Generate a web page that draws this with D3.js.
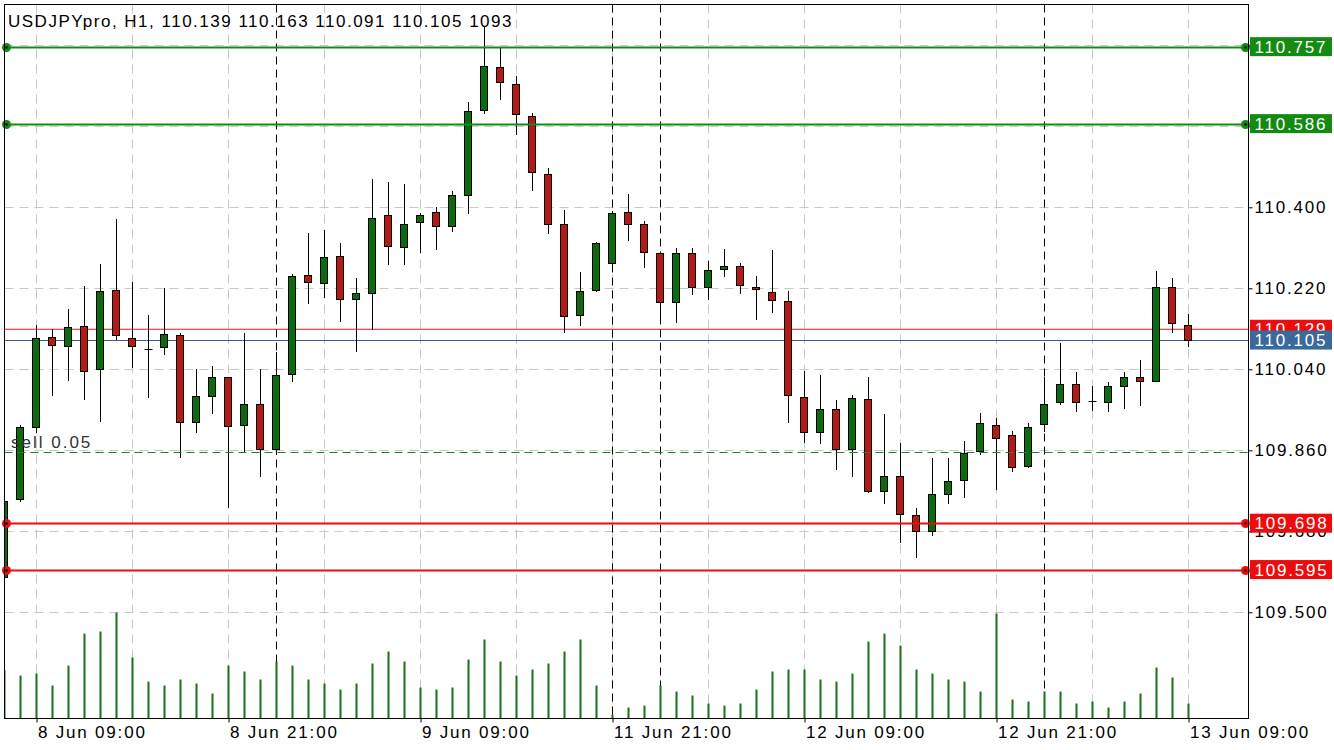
<!DOCTYPE html>
<html>
<head>
<meta charset="utf-8">
<title>USDJPYpro, H1</title>
<style>
  body { margin: 0; background: #fff; }
  svg text { font-family: 'Liberation Sans', Arial, sans-serif; }
  .ax text { font-size: 17px; letter-spacing: 1.8px; fill: #000; }
  .ax .domain { display: none; }
</style>
</head>
<body>
<div id="chart"></div>
<script src="https://d3js.org/d3.v7.min.js"></script>
<script>
// hourly bars, 8 Jun 07:00 .. 13 Jun 09:00 (weekend gap after 9 Jun 20:00)
var opens = [109.578,109.751,109.912,110.111,110.091,110.136,110.041,110.216,110.109,110.086,
  110.089,110.116,109.924,109.980,110.022,109.916,109.962,109.864,110.029,110.249,
  110.231,110.291,110.196,110.209,110.382,110.311,110.367,110.389,110.358,110.427,
  110.616,110.711,110.673,110.602,110.473,110.362,110.160,110.216,110.276,110.389,
  110.362,110.298,110.189,110.298,110.222,110.262,110.269,110.222,110.211,110.191,
  109.978,109.900,109.951,109.862,109.973,109.769,109.804,109.716,109.680,109.762,
  109.793,109.858,109.916,109.893,109.826,109.918,109.967,110.007,109.969,109.967,
  110.002,110.024,110.013,110.224,110.139];
var highs = [109.750,109.916,110.138,110.130,110.174,110.225,110.274,110.374,110.234,110.161,
  110.220,110.120,110.040,110.047,110.024,110.120,110.040,110.078,110.251,110.342,
  110.349,110.320,110.244,110.464,110.456,110.451,110.387,110.400,110.436,110.634,
  110.800,110.753,110.691,110.609,110.487,110.393,110.256,110.322,110.392,110.430,
  110.369,110.300,110.309,110.309,110.281,110.307,110.276,110.247,110.305,110.213,
  110.036,110.027,109.971,109.984,110.024,109.940,109.876,109.731,109.842,109.844,
  109.880,109.942,109.931,109.904,109.920,110.024,110.098,110.033,110.004,110.011,
  110.033,110.060,110.258,110.244,110.163];
var lows = [109.575,109.748,109.901,109.983,110.016,109.974,109.926,110.108,110.046,109.979,
  110.073,109.846,109.901,109.942,109.735,109.856,109.804,109.851,110.013,110.187,
  110.201,110.148,110.080,110.129,110.273,110.273,110.300,110.307,110.347,110.387,
  110.609,110.640,110.564,110.438,110.342,110.122,110.138,110.214,110.274,110.327,
  110.268,110.144,110.146,110.207,110.196,110.247,110.209,110.151,110.167,109.922,
  109.878,109.876,109.818,109.804,109.768,109.744,109.656,109.622,109.671,109.742,
  109.756,109.851,109.773,109.813,109.822,109.904,109.964,109.947,109.949,109.947,
  109.953,109.960,110.013,110.122,110.091];
var closes = [109.748,109.911,110.109,110.093,110.133,110.037,110.213,110.116,110.091,110.086,
  110.118,109.924,109.980,110.022,109.913,109.962,109.864,110.027,110.247,110.233,
  110.289,110.196,110.209,110.376,110.313,110.364,110.384,110.358,110.427,110.613,
  110.713,110.678,110.607,110.478,110.364,110.158,110.213,110.320,110.387,110.364,
  110.300,110.189,110.298,110.224,110.260,110.269,110.227,110.218,110.193,109.982,
  109.900,109.951,109.862,109.976,109.769,109.802,109.718,109.680,109.762,109.791,
  109.853,109.920,109.887,109.822,109.911,109.964,110.007,109.967,109.969,110.002,
  110.024,110.013,110.224,110.142,110.105];
var volumes = [3500,3140,3290,2410,3870,6200,6350,7740,4450,2700,
  2410,2850,2560,1830,3870,3430,2850,4160,3870,2850,
  2560,2120,2560,4020,4890,4160,2260,2120,2260,4310,
  5770,4160,3140,3580,4020,4890,5770,2410,290,800,
  950,2410,1970,1680,1100,950,1100,2120,3430,3580,
  3580,2850,2700,3290,5620,6200,5330,3580,3290,2850,
  2700,1970,7670,1390,1240,1970,1970,1100,1240,800,
  1240,1830,3720,2990,1093];

var priceTicks = [110.76, 110.58, 110.40, 110.22, 110.04, 109.86, 109.68, 109.50];
var timeTicks = [2, 14, 26, 38, 50, 62, 74];
var timeLabels = ["8 Jun 09:00", "8 Jun 21:00", "9 Jun 09:00", "11 Jun 21:00",
  "12 Jun 09:00", "12 Jun 21:00", "13 Jun 09:00"];
var gridBars = [2, 8, 14, 20, 26, 32, 38, 44, 50, 56, 62, 68, 74];
var dayStarts = [17, 38, 41, 65];

var greenLevels = [110.757, 110.586];
var redLevels = [109.698, 109.595];
var askPrice = 110.129, bidPrice = 110.105, sellPrice = 109.856;
var title = "USDJPYpro, H1, 110.139 110.163 110.091 110.105 1093";

var W = 1334, H = 750;
var L = 4.5, R = 1248.5, T = 4.5, B = 718.5;

var x = d3.scaleLinear().domain([0, 74]).range([4.5, 1188.5]);
var y = d3.scaleLinear().domain([109.264, 110.8507]).range([B, T]);
var yv = d3.scaleLinear().domain([0, 7740]).range([B, 612.5]);

var svg = d3.select("#chart").append("svg")
    .attr("width", W)
    .attr("height", H);

svg.append("rect").attr("width", W).attr("height", H).attr("fill", "#fff");

svg.append("clipPath").attr("id", "plotclip")
  .append("rect").attr("x", L).attr("y", T).attr("width", R - L).attr("height", B - T);

var g = svg.append("g").attr("clip-path", "url(#plotclip)");

// grid
g.selectAll(".hgrid").data(priceTicks).enter().append("line")
    .attr("x1", L).attr("x2", R)
    .attr("y1", function(d) { return Math.round(y(d)) + 0.5; })
    .attr("y2", function(d) { return Math.round(y(d)) + 0.5; })
    .attr("stroke", "#c8c8c8").attr("stroke-dasharray", "9,6");
g.selectAll(".vgrid").data(gridBars).enter().append("line")
    .attr("x1", function(d) { return x(d); }).attr("x2", function(d) { return x(d); })
    .attr("y1", T).attr("y2", B)
    .attr("stroke", "#c8c8c8").attr("stroke-dasharray", "9,6");
g.selectAll(".sep").data(dayStarts).enter().append("line")
    .attr("x1", function(d) { return x(d); }).attr("x2", function(d) { return x(d); })
    .attr("y1", T).attr("y2", B)
    .attr("stroke", "#000").attr("stroke-dasharray", "8,5");

// bid / ask lines
g.append("line").attr("x1", L).attr("x2", R)
    .attr("y1", y(askPrice)).attr("y2", y(askPrice))
    .attr("stroke", "#e01818").attr("stroke-width", 1.1);
g.append("line").attr("x1", L).attr("x2", R)
    .attr("y1", Math.round(y(bidPrice)) + 0.5).attr("y2", Math.round(y(bidPrice)) + 0.5)
    .attr("stroke", "#3d6089");

// volumes
g.selectAll(".vol").data(volumes).enter().append("line")
    .attr("x1", function(d, i) { return x(i); })
    .attr("x2", function(d, i) { return x(i); })
    .attr("y1", B).attr("y2", function(d) { return yv(d); })
    .attr("stroke", "#147214").attr("stroke-width", 2);

// candles
var idx = d3.range(opens.length);
var c = g.selectAll(".candle").data(idx).enter().append("g");
c.append("line")
    .attr("x1", function(i) { return x(i); }).attr("x2", function(i) { return x(i); })
    .attr("y1", function(i) { return Math.round(y(highs[i])); })
    .attr("y2", function(i) { return Math.round(y(lows[i])) + 1; })
    .attr("stroke", "#000");
c.append("rect")
    .attr("x", function(i) { return x(i) - 4; })
    .attr("width", 7)
    .attr("y", function(i) { return Math.round(y(Math.max(opens[i], closes[i]))) + 0.5; })
    .attr("height", function(i) {
      return Math.max(0, Math.round(y(Math.min(opens[i], closes[i]))) - Math.round(y(Math.max(opens[i], closes[i]))));
    })
    .attr("fill", function(i) { return closes[i] > opens[i] ? "#0c6c0c" : "#b41b11"; })
    .attr("stroke", function(i) { return opens[i] === closes[i] ? "none" : "#000"; });
c.filter(function(i) { return opens[i] === closes[i]; }).append("line")
    .attr("x1", function(i) { return x(i) - 4; }).attr("x2", function(i) { return x(i) + 4; })
    .attr("y1", function(i) { return Math.round(y(opens[i])) + 0.5; })
    .attr("y2", function(i) { return Math.round(y(opens[i])) + 0.5; })
    .attr("stroke", "#000");

// sell order line
g.append("line").attr("x1", L).attr("x2", R)
    .attr("y1", Math.round(y(sellPrice)) + 0.5).attr("y2", Math.round(y(sellPrice)) + 0.5)
    .attr("stroke", "#2a7a2a").attr("stroke-dasharray", "8,5");
svg.append("text").attr("x", 11).attr("y", 448)
    .attr("font-size", 17).style("letter-spacing", "2px").attr("fill", "#333")
    .text("sell 0.05");

// horizontal level objects
function levels(arr, col) {
  svg.selectAll(null).data(arr).enter().append("line")
      .attr("x1", 6).attr("x2", 1246)
      .attr("y1", function(d) { return Math.round(y(d)) + 0.5; })
      .attr("y2", function(d) { return Math.round(y(d)) + 0.5; })
      .attr("stroke", col).attr("stroke-width", 2);
  [6.5, 1245.5].forEach(function(px) {
    svg.selectAll(null).data(arr).enter().append("circle")
        .attr("cx", px).attr("cy", function(d) { return Math.round(y(d)) + 0.5; })
        .attr("r", 4.5).attr("fill", col);
    svg.selectAll(null).data(arr).enter().append("circle")
        .attr("cx", px).attr("cy", function(d) { return Math.round(y(d)) + 0.5; })
        .attr("r", 1.3).attr("fill", "#000");
  });
}
levels(greenLevels, "#138b13");
levels(redLevels, "#ee0b0b");

// frame
svg.append("rect").attr("x", L).attr("y", T).attr("width", R - L).attr("height", B - T)
    .attr("fill", "none").attr("stroke", "#000");

// axes
var ya = svg.append("g").attr("class", "ax").attr("transform", "translate(" + R + ",0)")
    .call(d3.axisRight(y).tickValues(priceTicks).tickFormat(d3.format(".3f"))
      .tickSize(4).tickPadding(2));
ya.selectAll("line").attr("stroke", "#000");

var xa = svg.append("g").attr("class", "ax").attr("transform", "translate(0," + B + ")")
    .call(d3.axisBottom(x).tickValues(timeTicks)
      .tickFormat(function(d, i) { return timeLabels[i]; })
      .tickSize(4).tickPadding(3.4));
xa.selectAll("text").attr("text-anchor", "start").attr("x", 1);
xa.selectAll("line").attr("stroke", "#000");

// price tags on the right
function tag(price, col, label) {
  var cy = y(price);
  svg.append("rect").attr("x", 1250).attr("y", cy - 9.5).attr("width", 82).attr("height", 19)
      .attr("fill", col);
  svg.append("text").attr("x", 1254.5).attr("y", cy + 6)
      .attr("font-size", 17).style("letter-spacing", "1.8px").attr("fill", "#fff")
      .text(label);
}
greenLevels.forEach(function(p) { tag(p, "#138b13", d3.format(".3f")(p)); });
redLevels.forEach(function(p) { tag(p, "#ee0b0b", d3.format(".3f")(p)); });
tag(askPrice, "#ee0b0b", d3.format(".3f")(askPrice));
tag(bidPrice, "#3a6a9c", d3.format(".3f")(bidPrice));

// title
svg.append("text").attr("x", 8).attr("y", 27)
    .attr("font-size", 17).style("letter-spacing", "1.5px").attr("fill", "#000")
    .text(title);
</script>
</body>
</html>
